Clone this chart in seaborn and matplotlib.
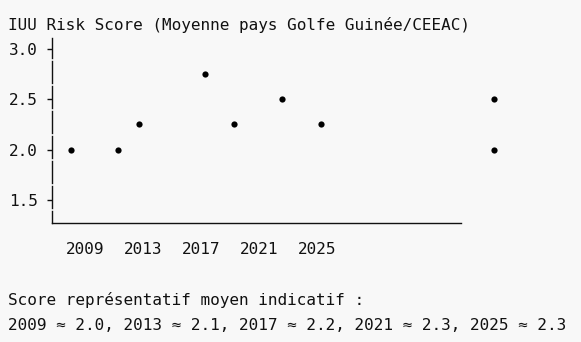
import matplotlib
matplotlib.use("Agg")
import matplotlib.pyplot as plt
import seaborn as sns
import pandas as pd

# values (x in years, y = risk score)
pt_year = [2008.0, 2011.3, 2012.7, 2017.3, 2019.3, 2022.6, 2025.3, 2037.2, 2037.2]
pt_score = [2.0, 2.0, 2.25, 2.75, 2.25, 2.5, 2.25, 2.5, 2.0]
year_ticks = [2009, 2013, 2017, 2021, 2025]
score_ticks = [1.5, 2.0, 2.5, 3.0]
mean_scores = [2.0, 2.1, 2.2, 2.3, 2.3]

title = "IUU Risk Score (Moyenne pays Golfe Guinée/CEEAC)"
note_title = "Score représentatif moyen indicatif :"

bg = "#f8f8f8"
ink = "#111111"

sns.set_style("white")
plt.rcParams["font.family"] = ["DejaVu Sans Mono"]
plt.rcParams["font.size"] = 11.57

df = pd.DataFrame({"year": pt_year, "score": pt_score})

W, H = 581, 342
fig = plt.figure(figsize=(W / 100, H / 100), dpi=100, facecolor=bg)
ax = fig.add_axes([52 / W, 1 - 223 / H, (461 - 52) / W, (223 - 38) / H])
ax.set_facecolor(bg)

sns.scatterplot(data=df, x="year", y="score", ax=ax, color="black",
                s=20, linewidth=0, clip_on=False, zorder=3)

ax.set_xlim(2006.72, 2034.93)
ax.set_ylim(1.27, 3.11)
ax.set_xticks(year_ticks)
ax.set_xticklabels([str(y) for y in year_ticks])
ax.set_yticks(score_ticks)
ax.set_yticklabels([f"{v:.1f}" for v in score_ticks])
ax.set_xlabel("")
ax.set_ylabel("")

for side in ["top", "right"]:
    ax.spines[side].set_visible(False)
ax.spines["bottom"].set_color(ink)
ax.spines["bottom"].set_linewidth(1.0)
ax.spines["left"].set_color(ink)
ax.spines["left"].set_linewidth(1.0)
# the axis in the reference is made of "|" characters, hence the small gaps
ax.spines["left"].set_linestyle((7.2, (15.84, 2.16)))

ax.tick_params(axis="x", length=0, pad=14, colors=ink)
ax.tick_params(axis="y", left=True, length=3.6, width=1.0, direction="out",
               pad=6.5, colors=ink)

fig.text(8 / W, 1 - 30 / H, title, ha="left", va="baseline", color=ink)
fig.text(8 / W, 1 - 305 / H, note_title, ha="left", va="baseline", color=ink)
note = ", ".join(f"{y} ≈ {v:.1f}" for y, v in zip(year_ticks, mean_scores))
fig.text(8 / W, 1 - 330 / H, note, ha="left", va="baseline", color=ink)

fig.savefig("out.png", dpi=100, facecolor=bg)
